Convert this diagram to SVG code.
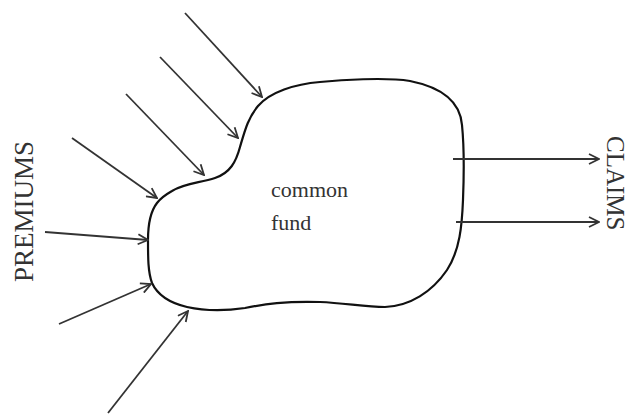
<svg xmlns="http://www.w3.org/2000/svg" width="631" height="414" viewBox="0 0 631 414">
<defs>
<marker id="arr" viewBox="0 0 12 12" refX="11" refY="6" markerWidth="12" markerHeight="12" markerUnits="userSpaceOnUse" orient="auto">
<path d="M1,1 L11,6 L1,11" fill="none" stroke="#333" stroke-width="1.8"/>
</marker>
<style>
.arrow{stroke:#333;stroke-width:1.8;fill:none;marker-end:url(#arr)}
.lbl{font-family:"Liberation Serif",serif;fill:#333}
</style>
</defs>
<rect width="631" height="414" fill="#fff"/>
<g id="fund">
<path d="M157,203 C150,212 148,225 148,240 C148,258 148,272 152,283 C158,296 170,303 187,307 C205,311 225,311 245,308 C265,304 285,301 320,302 C345,303 365,307 385,307 C410,306 432,292 447,270 C460,250 462,225 463,200 C464,175 464,145 462,125 C460,100 440,87 410,81 C385,77 340,80 320,82 C295,84 270,92 258,106 C248,118 245,130 240,147 C236,162 230,173 215,178 C200,183 185,183 172,191 C165,195 160,199 157,203 Z" fill="none" stroke="#111" stroke-width="2.2"/>
<text class="lbl" x="271" y="197" font-size="22">common</text>
<text class="lbl" x="271" y="230" font-size="22">fund</text>
</g>
<g id="premiums">
<text class="lbl" font-size="27" transform="translate(33,282) rotate(-90)">PREMIUMS</text>
</g>
<g id="claims">
<text class="lbl" font-size="25" transform="translate(607,136) rotate(90)">CLAIMS</text>
</g>
<g id="connectors">
<line class="arrow" x1="185" y1="13" x2="262" y2="97"/>
<line class="arrow" x1="160" y1="57" x2="238" y2="138"/>
<line class="arrow" x1="126" y1="94" x2="204" y2="175"/>
<line class="arrow" x1="72" y1="138" x2="157" y2="198"/>
<line class="arrow" x1="45" y1="232" x2="148" y2="240"/>
<line class="arrow" x1="59" y1="324" x2="151" y2="284"/>
<line class="arrow" x1="108" y1="413" x2="188" y2="311"/>
<line class="arrow" x1="453" y1="159" x2="599" y2="159"/>
<line class="arrow" x1="456" y1="222" x2="599" y2="222"/>
</g>
</svg>
